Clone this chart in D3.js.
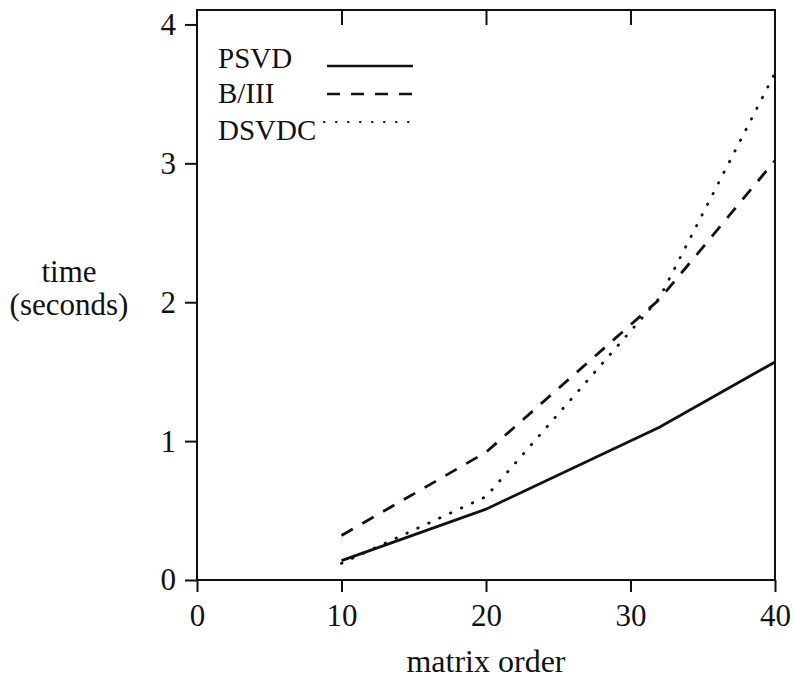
<!DOCTYPE html>
<meta charset="utf-8">
<script src="https://d3js.org/d3.v7.min.js"></script>
<style>
  body { margin: 0; background: #fff; }
  text { font-family: 'Liberation Serif', 'Times New Roman', serif; fill: #111; }
</style>
<body>
<div id="chart"></div>
<script>

// data
var orders = [10, 20, 32, 40];
var psvd   = [0.14, 0.51, 1.10, 1.57];
var b3     = [0.32, 0.92, 2.02, 3.02];
var dsvdc  = [0.12, 0.60, 2.03, 3.65];
var seriesNames = ["PSVD", "B/III", "DSVDC"];
var xTicks = [0, 10, 20, 30, 40];
var yTicks = [0, 1, 2, 3, 4];

var W = 794, H = 680;
var margin = {top: 10, right: 19, bottom: 100, left: 197},
    width = W - margin.left - margin.right,
    height = H - margin.top - margin.bottom;

var svg = d3.select("#chart").append("svg")
    .attr("width", W).attr("height", H)
  .append("g")
    .attr("transform", "translate(" + margin.left + "," + margin.top + ")");

var x = d3.scaleLinear().domain([0, 40]).range([0, width]);
var y = d3.scaleLinear().domain([0, 4.104]).range([height, 0]);

// left axis, ticks outward
var yAxis = svg.append("g")
  .call(d3.axisLeft(y).tickValues(yTicks).tickSize(12).tickPadding(9).tickFormat(d3.format("d")));

// bottom axis, ticks outward
var xAxis = svg.append("g")
  .attr("transform", "translate(0," + height + ")")
  .call(d3.axisBottom(x).tickValues(xTicks).tickSize(12).tickPadding(12).tickFormat(d3.format("d")));

// top axis, short ticks pointing in
var topAxis = svg.append("g")
  .call(d3.axisTop(x).tickValues([10, 20, 30]).tickSize(-15).tickFormat(""));

[yAxis, xAxis, topAxis].forEach(function(a) {
  a.select(".domain").remove();
  a.selectAll("line").attr("stroke", "#111").attr("stroke-width", 2);
  a.selectAll("text").style("font-size", "31px").attr("fill", "#111");
});

// frame
svg.append("rect")
  .attr("x", 0).attr("y", 0)
  .attr("width", width).attr("height", height)
  .attr("fill", "none").attr("stroke", "#111").attr("stroke-width", 2);

// the three curves
var dashes = ["none", "13,11", "0.5,11.5"];
var allSeries = [psvd, b3, dsvdc];

var line = d3.line()
  .x(function(d, i) { return x(orders[i]); })
  .y(function(d) { return y(d); });

allSeries.forEach(function(s, k) {
  svg.append("path")
    .datum(s)
    .attr("d", line)
    .attr("fill", "none")
    .attr("stroke", "#111")
    .attr("stroke-width", 2.8)
    .attr("stroke-dasharray", dashes[k])
    .attr("stroke-linecap", k == 2 ? "round" : "butt");
});

// handmade legend
var legY = [66, 94, 122];
var textY = [68, 103, 140];
var lineX0 = [327, 327, 324];
seriesNames.forEach(function(n, k) {
  svg.append("text")
    .attr("x", 218 - margin.left).attr("y", textY[k] - margin.top)
    .style("font-size", "29px")
    .text(n);
  svg.append("line")
    .attr("x1", lineX0[k] - margin.left).attr("x2", 413 - margin.left)
    .attr("y1", legY[k] - margin.top).attr("y2", legY[k] - margin.top)
    .attr("stroke", "#111")
    .attr("stroke-width", k == 2 ? 2 : 2.4)
    .attr("stroke-dasharray", dashes[k])
    .attr("stroke-linecap", k == 2 ? "round" : "butt");
});

// axis labels
svg.append("text")
  .attr("text-anchor", "middle")
  .attr("x", width / 2)
  .attr("y", 672 - margin.top)
  .style("font-size", "32px")
  .text("matrix order");

svg.append("text")
  .attr("text-anchor", "middle")
  .attr("x", 69 - margin.left)
  .attr("y", 282 - margin.top)
  .style("font-size", "31px")
  .text("time");

svg.append("text")
  .attr("text-anchor", "middle")
  .attr("x", 69 - margin.left)
  .attr("y", 315 - margin.top)
  .style("font-size", "31px")
  .text("(seconds)");

</script>
</body>
